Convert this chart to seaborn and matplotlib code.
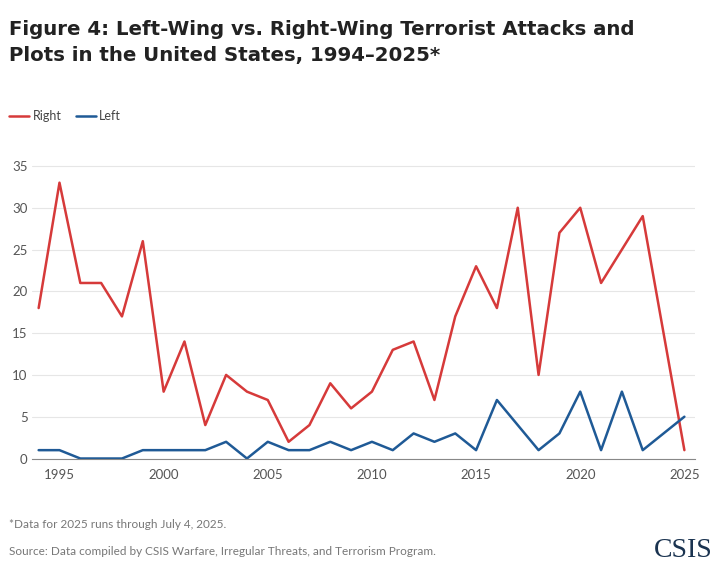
import matplotlib.pyplot as plt
import seaborn as sns
import pandas as pd

years = list(range(1994, 2026))
right = [18, 33, 21, 21, 17, 26, 8, 14, 4, 10, 8, 7, 2, 4, 9, 6, 8, 13, 14, 7,
         17, 23, 18, 30, 10, 27, 30, 21, 25, 29, 15, 1]
left = [1, 1, 0, 0, 0, 1, 1, 1, 1, 2, 0, 2, 1, 1, 2, 1, 2, 1, 3, 2,
        3, 1, 7, 4, 1, 3, 8, 1, 8, 1, 3, 5]

df = pd.DataFrame({"year": years * 2,
                   "value": right + left,
                   "series": ["Right"] * len(years) + ["Left"] * len(years)})

sns.set_style("white")
plt.rcParams["font.family"] = ["Lato", "DejaVu Sans"]

fig = plt.figure(figsize=(7.2, 5.71), dpi=100)
ax = fig.add_axes([0.045, 0.197, 0.92, 0.527])

sns.lineplot(data=df, x="year", y="value", hue="series",
             palette={"Right": "#d63a3a", "Left": "#1f5a96"},
             linewidth=1.8, ax=ax, legend=False)

ax.set_xlim(1993.7, 2025.5)
ax.set_ylim(0, 36)
ax.set_yticks(range(0, 36, 5))
ax.set_xticks(range(1995, 2026, 5))
ax.yaxis.grid(True, color="#e6e6e6", linewidth=0.8)
ax.set_xlabel("")
ax.set_ylabel("")
for s in ["top", "right", "left"]:
    ax.spines[s].set_visible(False)
ax.spines["bottom"].set_color("#888888")
ax.tick_params(axis="both", labelsize=9.5, colors="#555555", length=0)
ax.tick_params(axis="x", length=4, color="#888888")

fig.text(0.012, 0.965, "Figure 4: Left-Wing vs. Right-Wing Terrorist Attacks and\nPlots in the United States, 1994\u20132025*",
         fontsize=14.2, fontweight="bold", va="top", color="#222222", linespacing=1.45,
         family=["DejaVu Sans"])

# legend
fig.lines.append(plt.Line2D([0.012, 0.04], [0.797, 0.797], color="#d63a3a", lw=1.8, transform=fig.transFigure))
fig.text(0.045, 0.797, "Right", fontsize=9, va="center", color="#444444")
fig.lines.append(plt.Line2D([0.105, 0.133], [0.797, 0.797], color="#1f5a96", lw=1.8, transform=fig.transFigure))
fig.text(0.138, 0.797, "Left", fontsize=9, va="center", color="#444444")

fig.text(0.012, 0.075, "*Data for 2025 runs through July 4, 2025.", fontsize=8.5, color="#777777")
fig.text(0.012, 0.028, "Source: Data compiled by CSIS Warfare, Irregular Threats, and Terrorism Program.",
         fontsize=8.5, color="#777777")
fig.text(0.99, 0.025, "CSIS", fontsize=20, family=["Liberation Serif", "DejaVu Serif"],
         color="#1a3350", ha="right")

fig.savefig("out.png", dpi=100)
